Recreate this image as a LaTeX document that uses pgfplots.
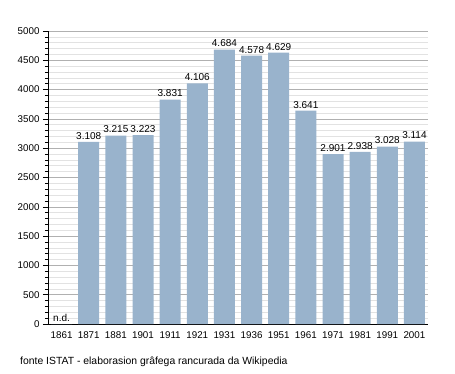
\documentclass[border=0pt]{standalone}
\usepackage{pgfplots}
\pgfplotsset{compat=1.18}
\usepackage{fontspec}
\setmainfont{Liberation Sans}
\definecolor{barc}{RGB}{153,179,204}
\definecolor{majg}{RGB}{176,176,176}
\definecolor{ming}{RGB}{226,226,226}
\begin{document}
\begin{tikzpicture}
\useasboundingbox (0,0) rectangle (455pt,373pt);
\begin{axis}[
  at={(48pt,49pt)}, anchor=south west,
  scale only axis, width=380pt, height=293pt,
  xmin=-0.5, xmax=13.5, ymin=0, ymax=5000,
  axis x line*=bottom, axis y line*=left,
  x axis line style={-, black, line width=0.8pt},
  y axis line style={-, black, line width=0.8pt},
  xtick={0,...,13},
  xticklabels={1861,1871,1881,1901,1911,1921,1931,1936,1951,1961,1971,1981,1991,2001},
  xtick style={draw=none},
  ytick={0,500,...,5000},
  minor y tick num=4,
  tick align=outside,
  major tick length=5pt, minor tick length=3pt,
  ytick style={black, line width=0.6pt},
  minor y tick style={black, line width=0.6pt},
  ymajorgrids, yminorgrids,
  major grid style={majg, line width=0.6pt},
  minor grid style={ming, line width=0.6pt},
  tick label style={font=\fontsize{9.8}{11}\selectfont},
  /pgf/number format/assume math mode=true,
  scaled y ticks=false,
  yticklabel style={/pgf/number format/1000 sep={}},
  xticklabel style={yshift=1pt},
  ybar, bar width=21pt,
  nodes near coords,
  point meta=explicit symbolic,
  every node near coord/.append style={font=\fontsize{10}{11}\selectfont, black, yshift=-1pt},
  clip=false,
]
\addplot[fill=barc, draw=none] coordinates {
 (0,0) [n.d.]
 (1,3108) [3.108]
 (2,3215) [3.215]
 (3,3223) [3.223]
 (4,3831) [3.831]
 (5,4106) [4.106]
 (6,4684) [4.684]
 (7,4578) [4.578]
 (8,4629) [4.629]
 (9,3641) [3.641]
 (10,2901) [2.901]
 (11,2938) [2.938]
 (12,3028) [3.028]
 (13,3114) [3.114]
};
\end{axis}
\node[anchor=west, font=\fontsize{10.4}{12}\selectfont, inner sep=0pt] at (20pt,11pt) {fonte ISTAT - elaborasion grâfega rancurada da Wikipedia};
\end{tikzpicture}
\end{document}
